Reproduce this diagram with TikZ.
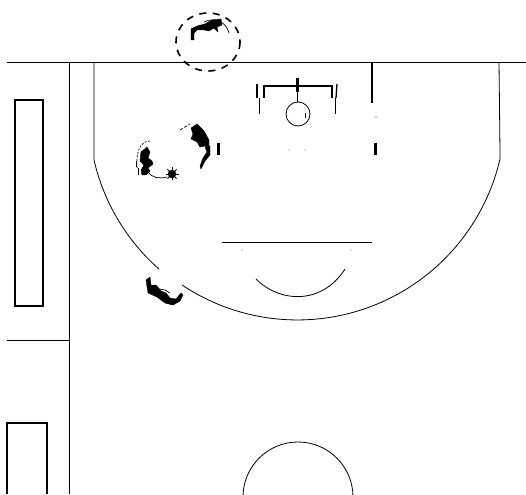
\documentclass[tikz,border=0pt]{standalone}
\begin{document}
\begin{tikzpicture}[
    x=1pt, y=1pt, yscale=-1,
    court/.style={draw=black, line width=0.9pt},
    thin court/.style={draw=black, line width=0.8pt},
    board/.style={draw=black, line width=1.8pt},
    tick/.style={draw=black, line width=3pt},
    player/.style={fill=black, draw=black, line width=0.4pt, line join=round},
    run/.style={draw=black, line width=0.7pt},
    ring/.style={draw=black, line width=1.6pt, dash pattern=on 7pt off 6.5pt},
  ]
  \clip (0,0) rectangle (526,494);

  % sidelines and the table areas on the left
  \draw[court] (7,62) -- (526,62);
  \draw[court] (69,62) -- (69,494);
  \draw[court] (7,340) -- (69,340);
  \draw[court, line width=1.4pt] (15,100) rectangle (43,306);
  \draw[court, line width=1.4pt] (7,494) -- (7,423) -- (47,423) -- (47,494);

  % three point line, with the gap by the lower player
  \draw[thin court] (94,62) -- (94,160) arc[start angle=167, end angle=131.4, radius=208];
  \draw[thin court] (182,285) arc[start angle=123.7, end angle=13, radius=208] -- (499,62);

  % free throw line and half circle
  \draw[court] (222,242) -- (372,242);
  \draw[thin court] (256,279) .. controls (280,303) and (322,305) .. (345,269);
  \draw[thin court] (298,497) circle[radius=55];

  % basket
  \draw[board] (264,98) -- (264,86) -- (332,86) -- (332,98);
  \draw[tick] (297,78) -- (297,92);
  \draw[court] (297,92) -- (297,102);
  \draw[thin court] (298,114) circle[radius=12];
  \draw[court, line width=1.3pt] (257,84) -- (257,98);
  \draw[court] (259,98) -- (259,114);
  \draw[court, line width=1.3pt] (337,84) -- (336,98);
  \draw[court] (335,98) -- (335,114);
  \fill (305,113) rectangle (306,118);

  % lane marks
  \draw[court, line width=1.6pt] (372,62) -- (372,103);
  \draw[tick] (218,143) -- (218,155);
  \draw[tick] (375,143) -- (375,155);
  \fill (376,117) circle[radius=0.7];
  \fill[gray] (289,150) circle[radius=0.6] (305,150) circle[radius=0.6];
  \fill[gray] (242,250) circle[radius=0.7] (351,250) circle[radius=0.7];

  % player at the top, in the dashed ring
  \draw[ring] (208,42) ellipse[x radius=32, y radius=29];
  \fill[player] (191,40) -- (191,29) -- (197,26) -- (205,24) -- (212,20) -- (221,19)
    -- (222,25) -- (217,27) -- (218,32) -- (214,28) -- (209,31) -- (204,30) -- (197,30)
    -- (194,33) -- (194,40) -- cycle;
  \draw[run] (204,22) .. controls (214,17) and (226,21) .. (229,33);

  % player by the right of the circle
  \fill[player] (191,128) -- (197,124) -- (204,131) -- (209,140) -- (209,147) -- (205,146)
    -- (200,147) -- (197,142) -- (191,139) -- (193,134) -- cycle;
  \fill[player] (205,147) -- (210,146) -- (210,155) -- (205,161) -- (201,169) -- (200,166)
    -- (203,158) -- (207,152) -- cycle;
  \draw[run, dash pattern=on 3pt off 2pt] (180,130) -- (190,124);

  % player on the left, with the ball
  \fill[player] (141,152) -- (147,147) -- (150,152) -- (148,158) -- (152,161) -- (153,164)
    -- (148,168) -- (150,171) -- (146,175) -- (142,175) -- (141,170) -- (144,165) -- (140,161) -- cycle;
  \draw[run, dash pattern=on 2pt off 1.5pt] (150,141) .. controls (140,141) and (136,152) .. (137,168);
  \draw[run] (136,161) -- (136,167) (138,168) -- (138,175);
  \draw[run] (148,172) .. controls (153,178) and (158,179) .. (167,177);
  \fill[player] (172,174) circle[radius=4];
  \foreach \a in {0,45,...,315}
    \draw[line width=0.8pt] (172,174) -- ++(\a:6.5);

  % player at the gap of the line
  \fill[player] (146,280) -- (150,277) -- (151,285) -- (156,285) -- (161,291) -- (166,293)
    -- (170,298) -- (176,299) -- (181,293) -- (183,295) -- (180,301) -- (173,305) -- (165,303)
    -- (157,297) -- (148,293) -- cycle;
  \draw[run] (154,288) -- (165,290) -- (170,293);
\end{tikzpicture}
\end{document}
